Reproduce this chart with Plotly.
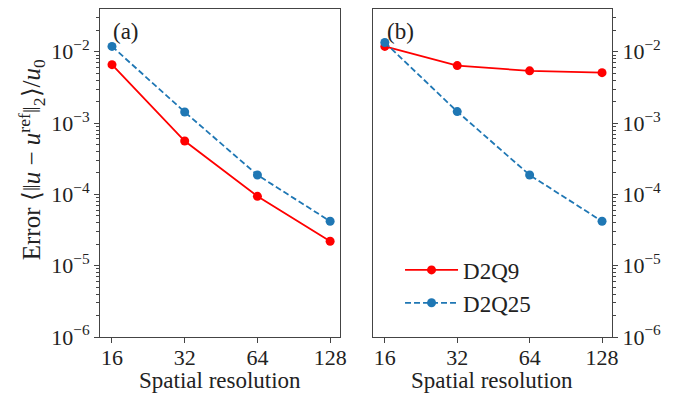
import plotly.graph_objects as go

resolution = [16, 32, 64, 128]
a_d2q9 = [6.6e-3, 5.6e-4, 9.4e-5, 2.2e-5]
a_d2q25 = [1.19e-2, 1.43e-3, 1.87e-4, 4.2e-5]
b_d2q9 = [1.19e-2, 6.4e-3, 5.4e-3, 5.1e-3]
b_d2q25 = [1.35e-2, 1.45e-3, 1.87e-4, 4.2e-5]

ytick_vals = [1e-6, 1e-5, 1e-4, 1e-3, 1e-2]
ytick_text = ["10<sup>−6</sup>", "10<sup>−5</sup>", "10<sup>−4</sup>", "10<sup>−3</sup>", "10<sup>−2</sup>"]
minor_vals = [m * 10 ** e for e in range(-6, -1) for m in range(2, 10)] + [0.02, 0.03, 0.04]

RED = "#ff0000"
BLUE = "#1f77b4"
FONT = "Liberation Serif"
FS = 22
FT = 23
AXC = "#444444"
TXT = "#222222"

fig = go.Figure()

def add(x, y, color, dash, name, xa, ya, show):
    fig.add_trace(go.Scatter(
        x=x, y=y, mode="lines+markers", name=name, showlegend=show, legendgroup=name,
        line=dict(color=color, width=1.8, dash=dash),
        marker=dict(color=color, size=9),
        xaxis=xa, yaxis=ya))

add(resolution, a_d2q9, RED, "solid", "D2Q9", "x", "y", False)
add(resolution, a_d2q25, BLUE, "6px,3px", "D2Q25", "x", "y", False)
add(resolution, b_d2q9, RED, "solid", "D2Q9", "x2", "y2", True)
add(resolution, b_d2q25, BLUE, "6px,3px", "D2Q25", "x2", "y2", True)

xcommon = dict(type="log", range=[1.1545, 2.1486], tickmode="array",
               tickvals=resolution, ticktext=[str(r) for r in resolution],
               ticks="outside", ticklen=5, tickwidth=1, tickcolor=AXC,
               ticklabelstandoff=-4,
               showline=True, linecolor=AXC, linewidth=1, mirror=True,
               showgrid=False, zeroline=False,
               tickfont=dict(family=FONT, size=FS, color=TXT))
ycommon = dict(type="log", range=[-6, -1.4], tickmode="array",
               tickvals=ytick_vals, ticktext=ytick_text,
               ticks="outside", ticklen=5, tickwidth=1, tickcolor=AXC,
               minor=dict(tickmode="array", tickvals=minor_vals, ticks="outside", ticklen=3,
                          tickwidth=0.8, tickcolor=AXC, showgrid=False),
               showline=True, linecolor=AXC, linewidth=1, mirror=True,
               showgrid=False, zeroline=False,
               tickfont=dict(family=FONT, size=FS, color=TXT))

fig.update_layout(
    width=693, height=394,
    margin=dict(l=100, r=81, t=9, b=57),
    paper_bgcolor="white", plot_bgcolor="white",
    xaxis=dict(domain=[0, 0.469], anchor="y", **xcommon),
    xaxis2=dict(domain=[0.533, 1.0], anchor="y2", **xcommon),
    yaxis=dict(domain=[0, 1], anchor="x", side="left", **ycommon),
    yaxis2=dict(domain=[0, 1], anchor="x2", side="right", **ycommon),
    legend=dict(x=0.586, y=0.27, xanchor="left", yanchor="top",
                bgcolor="rgba(0,0,0,0)", font=dict(family=FONT, size=FT, color=TXT),
                tracegroupgap=0, itemwidth=53),
    annotations=[
        dict(text="Error ⟨‖<i>u</i> − <i>u</i><sup>ref</sup>‖<sub>2</sub>⟩/<i>u</i><sub>0</sub>",
             xref="paper", yref="paper", x=-0.134, y=0.54, textangle=-90,
             xanchor="center", yanchor="middle", showarrow=False,
             font=dict(family=FONT, size=25, color=TXT)),
        dict(text="(a)", xref="x domain", yref="y domain", x=0.045, y=0.975,
             xanchor="left", yanchor="top", showarrow=False,
             font=dict(family=FONT, size=FT, color=TXT)),
        dict(text="(b)", xref="x2 domain", yref="y2 domain", x=0.05, y=0.975,
             xanchor="left", yanchor="top", showarrow=False,
             font=dict(family=FONT, size=FT, color=TXT)),
        dict(text="Spatial resolution", xref="x domain", yref="paper", x=0.5, y=-0.134,
             xanchor="center", yanchor="middle", showarrow=False,
             font=dict(family=FONT, size=FT, color=TXT)),
        dict(text="Spatial resolution", xref="x2 domain", yref="paper", x=0.5, y=-0.134,
             xanchor="center", yanchor="middle", showarrow=False,
             font=dict(family=FONT, size=FT, color=TXT)),
    ],
)

fig.write_html("out.html", config={"displayModeBar": False},
               post_script="document.body.style.margin='0';")
